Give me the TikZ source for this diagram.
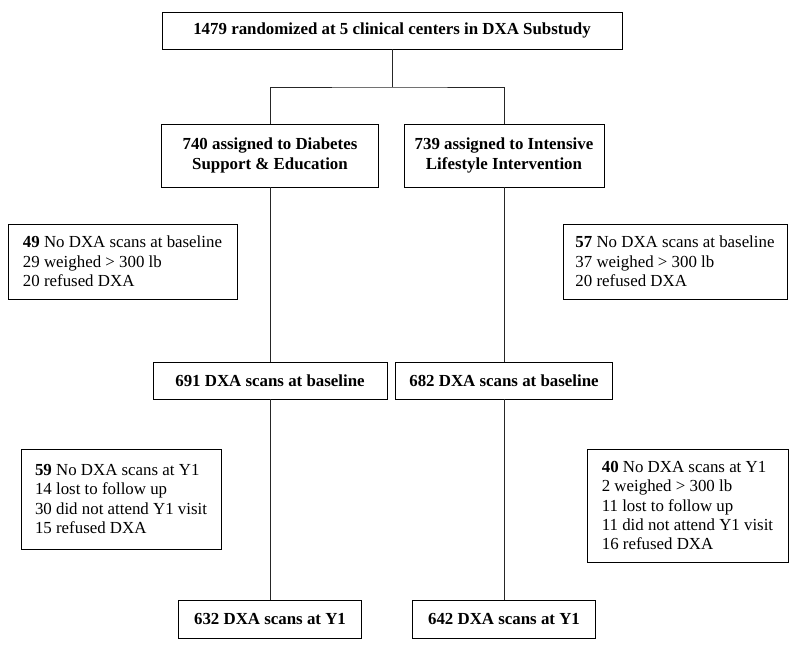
\documentclass[tikz,border=0pt]{standalone}
\usepackage{fontspec}
\setmainfont{Liberation Serif}
\usetikzlibrary{positioning}

\begin{document}
\begin{tikzpicture}[
    box/.style={draw, minimum height=0.925cm, align=center, font=\fontsize{12}{13.8}\selectfont\bfseries, inner sep=2pt},
    note/.style={draw, align=left, font=\fontsize{12}{13.8}\selectfont, inner sep=2pt},
    line/.style={line width=0.7pt, black!85}
]
\useasboundingbox (0,0) rectangle (20,-16.25);

% Randomization
\node[box, minimum width=11.5cm] (rand) at (9.8,-0.7625) {1479 randomized at 5 clinical centers in DXA Substudy};
\coordinate (split) at (9.8,-2.175);

% Assigned groups
\node[box, minimum width=5.425cm, minimum height=1.575cm] (dse) at (6.75,-3.8875) {740 assigned to Diabetes\\Support \& Education};
\node[box, minimum width=5cm, minimum height=1.575cm] (ili) at (12.6,-3.8875) {739 assigned to Intensive\\Lifestyle Intervention};

% No scans at baseline
\node[note, minimum width=5.725cm, minimum height=1.875cm] (nobaseDSE) at (3.0625,-6.5375) {\textbf{49} No DXA scans at baseline\\29 weighed > 300 lb\\20 refused DXA};
\node[note, minimum width=5.6cm, minimum height=1.875cm] (nobaseILI) at (16.875,-6.5375) {\textbf{57} No DXA scans at baseline\\37 weighed > 300 lb\\20 refused DXA};

% Baseline scans
\node[box, minimum width=5.85cm] (baseDSE) at (6.75,-9.5125) {691 DXA scans at baseline};
\node[box, minimum width=5.425cm] (baseILI) at (12.6,-9.5125) {682 DXA scans at baseline};

% No scans at Y1
\node[note, minimum width=5cm, minimum height=2.5cm] (noyDSE) at (3.025,-12.475) {\textbf{59} No DXA scans at Y1\\14 lost to follow up\\30 did not attend Y1 visit\\15 refused DXA};
\node[note, minimum width=5.025cm, minimum height=2.825cm] (noyILI) at (17.1875,-12.6375) {\textbf{40} No DXA scans at Y1\\2 weighed > 300 lb\\11 lost to follow up\\11 did not attend Y1 visit\\16 refused DXA};

% Y1 scans
\node[box, minimum width=4.575cm, minimum height=0.95cm] (yDSE) at (6.75,-15.475) {632 DXA scans at Y1};
\node[box, minimum width=4.575cm, minimum height=0.95cm] (yILI) at (12.6,-15.475) {642 DXA scans at Y1};

% Lines
\draw[line] (rand.south) -- (split);
\draw[line] (dse.north) |- (split) -| (ili.north);
\draw[line] (dse.south) -- (baseDSE.north);
\draw[line] (ili.south) -- (baseILI.north);
\draw[line] (baseDSE.south) -- (yDSE.north);
\draw[line] (baseILI.south) -- (yILI.north);

\end{tikzpicture}
\end{document}
